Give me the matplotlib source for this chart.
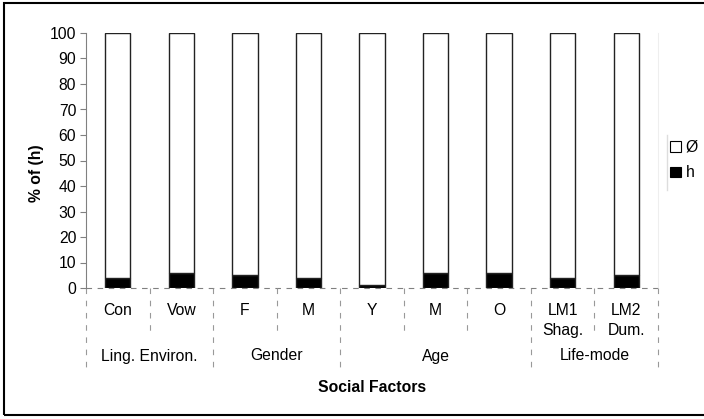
import matplotlib.pyplot as plt
from matplotlib.patches import Rectangle, Patch
from matplotlib.lines import Line2D

# chart values
categories = ['Con', 'Vow', 'F', 'M', 'Y', 'M', 'O', 'LM1\nShag.', 'LM2\nDum.']
h_values = [4, 6, 5, 4, 1, 6, 6, 4, 5]
zero_values = [100 - v for v in h_values]
groups = ['Ling. Environ.', 'Gender', 'Age', 'Life-mode']
group_sizes = [2, 2, 3, 2]
y_ticks = list(range(0, 101, 10))

plt.rcParams['font.family'] = ['Liberation Sans', 'DejaVu Sans']
FS = 11.3
plt.rcParams['font.size'] = FS

W, H = 704, 419
fig = plt.figure(figsize=(W / 100, H / 100), dpi=100)

# outer chart border (left, top, bottom visible)
fig.patches.append(Rectangle((4 / W, 1 - 415 / H), 2.0, (415 - 3) / H,
                             transform=fig.transFigure, fill=False,
                             edgecolor='black', linewidth=1.5))

left, right, top, bottom = 86, 658, 33, 288
ax = fig.add_axes([left / W, 1 - bottom / H, (right - left) / W, (bottom - top) / H])
ax_h = bottom - top

x = list(range(len(categories)))
ax.bar(x, h_values, width=0.4, color='black', edgecolor='#222222', linewidth=1)
ax.bar(x, zero_values, width=0.4, bottom=h_values, color='white',
       edgecolor='#222222', linewidth=1)

ax.set_xlim(-0.5, len(categories) - 0.5)
ax.set_ylim(0, 100)
ax.set_yticks(y_ticks)
ax.tick_params(axis='y', length=4, color='#808080', labelsize=FS, pad=3)
ax.set_xticks([])
for s in ['top', 'right', 'bottom']:
    ax.spines[s].set_visible(False)
ax.spines['left'].set_color('#808080')
ax.axhline(0, color='#808080', linestyle=(0, (5, 5)), linewidth=0.8, clip_on=False)

# light right edge of plot area
ax.plot([1, 1], [0, 1], transform=ax.transAxes, color='#eeeeee', linewidth=0.8, clip_on=False)

tr = ax.get_xaxis_transform()

def px(y):
    return (bottom - y) / ax_h

# separators below the axis
boundaries = [i - 0.5 for i in range(len(categories) + 1)]
group_edges = [-0.5]
for n in group_sizes:
    group_edges.append(group_edges[-1] + n)
for b in boundaries:
    y_end = px(371) if b in group_edges else px(332)
    ax.plot([b, b], [0, y_end], transform=tr, color='#999999',
            linestyle=(0, (5, 6)), linewidth=0.8, clip_on=False)

for i, lab in enumerate(categories):
    ax.text(i, px(303), lab, transform=tr, ha='center', va='top', fontsize=FS,
            linespacing=1.45)

for g, lab in enumerate(groups):
    c = (group_edges[g] + group_edges[g + 1]) / 2
    ax.text(c, px(356), lab, transform=tr, ha='center', va='center', fontsize=FS)

ax.text(0.5, px(387), 'Social Factors', transform=ax.transAxes, ha='center',
        va='center', fontsize=FS, fontweight='bold')
fig.text(36 / W, 1 - 173 / H, '% of (h)', rotation=90, ha='center', va='center',
         fontsize=FS, fontweight='bold')

# legend
handles = [Patch(facecolor='white', edgecolor='black', linewidth=0.8),
           Patch(facecolor='black', edgecolor='black', linewidth=0.8)]
fig.legend(handles, ['Ø', 'h'], loc='center left',
           bbox_to_anchor=(670 / W, 1 - 160 / H), frameon=False,
           handlelength=0.7, handleheight=0.7, handletextpad=0.3,
           labelspacing=0.7, fontsize=FS, borderpad=0, borderaxespad=0)
fig.lines.append(Line2D([667 / W, 667 / W], [1 - 135 / H, 1 - 190 / H],
                        transform=fig.transFigure, color='#dddddd', linewidth=1))

fig.savefig('out.png', dpi=100)
